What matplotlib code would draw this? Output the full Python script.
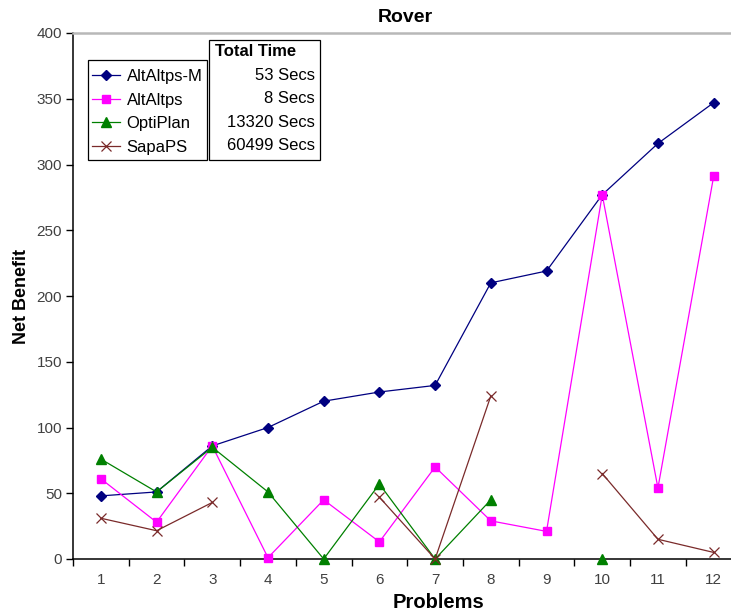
import numpy as np
import matplotlib
matplotlib.use("Agg")
import matplotlib.pyplot as plt
from matplotlib.patches import Rectangle

plt.rcParams['font.family'] = ['Liberation Sans', 'DejaVu Sans']

problems = [1, 2, 3, 4, 5, 6, 7, 8, 9, 10, 11, 12]
altaltps_m = [48, 51, 86, 100, 120, 127, 132, 210, 219, 277, 316, 347]
altaltps = [61, 28, 86, 1, 45, 13, 70, 29, 21, 277, 54, 291]
optiplan = [76, 51, 85, 51, 0, 57, 0, 45, None, 0, None, None]
sapaps = [31, 21.5, 43, None, None, 47, 0, 124, None, 65, 15, 5]

series_names = ['AltAltps-M', 'AltAltps', 'OptiPlan', 'SapaPS']
total_times = ['53 Secs', '8 Secs', '13320 Secs', '60499 Secs']

def arr(v):
    return np.array([np.nan if x is None else x for x in v], dtype=float)

W, H = 731, 616
fig = plt.figure(figsize=(W / 100, H / 100), dpi=100)
ax = fig.add_axes([73 / W, 1 - 559 / H, (741.5 - 73) / W, (559 - 33) / H])

styles = [
    dict(color='#000080', marker='D', markersize=5, mfc='#000080', mec='#000080'),
    dict(color='#ff00ff', marker='s', markersize=6, mfc='#ff00ff', mec='#ff00ff'),
    dict(color='#008000', marker='^', markersize=6.5, mfc='#008000', mec='#008000'),
    dict(color='#7a2a2a', marker='x', markersize=7, mfc='none', mec='#7a2a2a', mew=0.9),
]
handles = []
for name, vals, st in zip(series_names, [altaltps_m, altaltps, optiplan, sapaps], styles):
    h, = ax.plot(problems, arr(vals), linewidth=0.9, label=name, clip_on=False, zorder=3, **st)
    handles.append(h)

ax.set_xlim(0.5, 12.5)
ax.set_ylim(0, 400)
ax.set_yticks(np.arange(0, 401, 50))
ax.set_xticks(problems)
ax.set_xticks(np.arange(0.5, 12.6, 1), minor=True)
ax.tick_params(axis='x', which='major', length=0, pad=10, labelsize=11, labelcolor='#404040')
ax.tick_params(axis='x', which='minor', length=5, direction='out', width=1, color='black')
ax.tick_params(axis='y', which='major', length=5, direction='out', width=1, labelsize=11,
               labelcolor='#404040', pad=3)

for s in ['left', 'bottom']:
    ax.spines[s].set_color('black')
    ax.spines[s].set_linewidth(1.1)
ax.spines['top'].set_color('#b8b8b8')
ax.spines['top'].set_linewidth(1.8)
ax.spines['right'].set_visible(False)

fig.text(405 / W, 1 - 18 / H, 'Rover', ha='center', va='center', fontsize=14, fontweight='bold')
fig.text(22 / W, 1 - 296 / H, 'Net Benefit', ha='center', va='center', rotation=90,
         fontsize=13, fontweight='bold')
fig.text(438 / W, 1 - 602 / H, 'Problems', ha='center', va='center', fontsize=14.5, fontweight='bold')

# legend box
legrect = Rectangle((88 / W, 1 - 160 / H), (207 - 88) / W, (160 - 60) / H,
                    transform=fig.transFigure, fill=True, facecolor='white',
                    edgecolor='black', linewidth=0.9, zorder=4)
fig.add_artist(legrect)
leg = fig.legend(handles=handles, loc='upper left', bbox_to_anchor=(92 / W, 1 - 69 / H),
                 bbox_transform=fig.transFigure, frameon=False, fontsize=12, handlelength=1.65,
                 handletextpad=0.42, labelspacing=0.52, borderpad=0, borderaxespad=0)
leg.set_zorder(6)

rect = Rectangle((209 / W, 1 - 160 / H), (320 - 209) / W, (160 - 40) / H,
                 transform=fig.transFigure, fill=True, facecolor='white',
                 edgecolor='black', linewidth=0.9, zorder=5)
fig.add_artist(rect)
fig.text(215 / W, 1 - 52 / H, 'Total Time', ha='left', va='center', fontsize=12,
         fontweight='bold', zorder=6)
for i, t in enumerate(total_times):
    fig.text(315 / W, 1 - (75 + 23.6 * i) / H, t, ha='right', va='center', fontsize=12, zorder=6)

fig.savefig('out.png', dpi=100)
